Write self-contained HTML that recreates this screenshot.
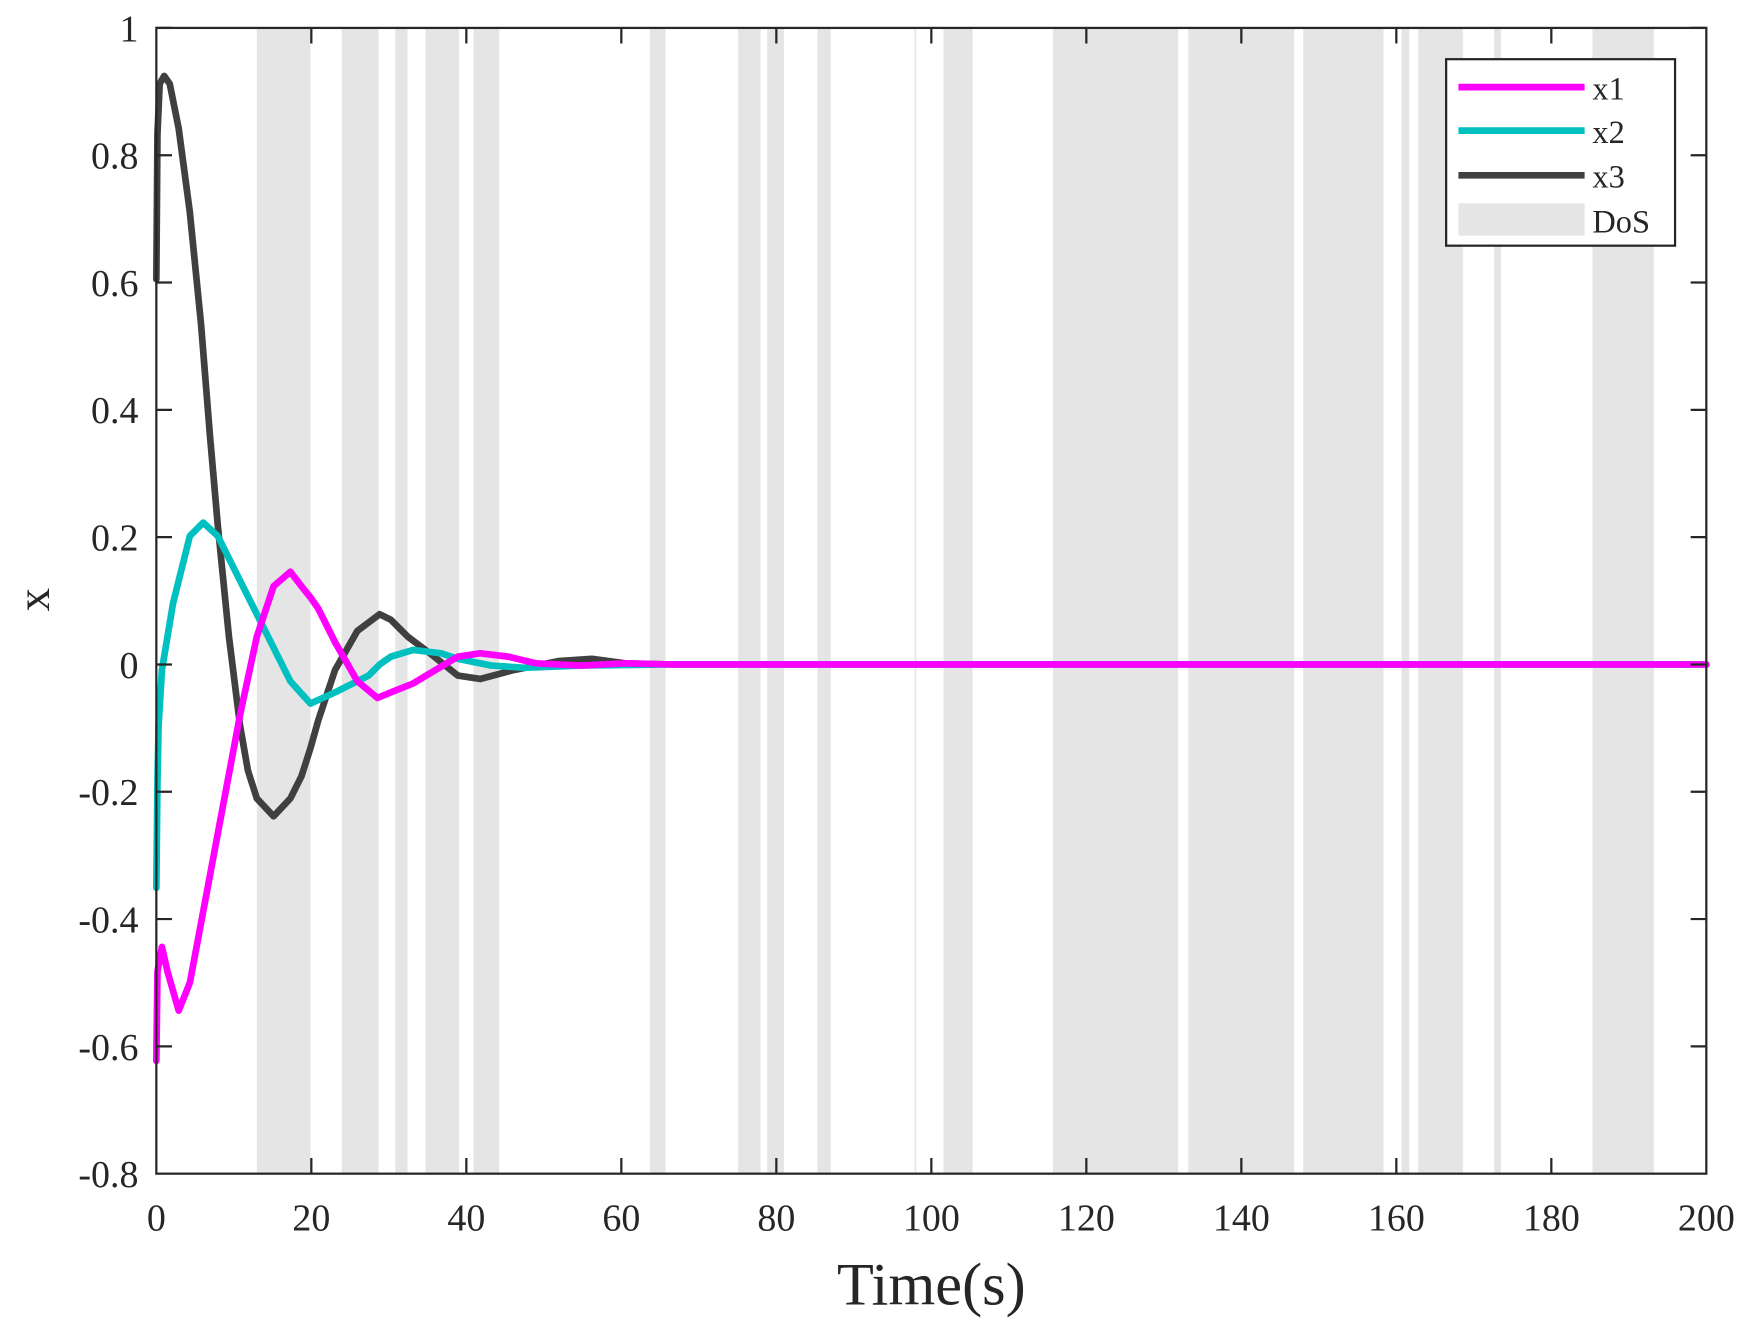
<!DOCTYPE html>
<html><head><meta charset="utf-8"><style>
html,body{margin:0;padding:0;background:#fff;}
svg{display:block;}
text{font-family:"Liberation Serif",serif;fill:#262626;}
</style></head><body>
<svg width="1751" height="1327" viewBox="0 0 1568 1188.3" xmlns="http://www.w3.org/2000/svg">
<rect x="0" y="0" width="1568" height="1188.3" fill="#fff"/>
<g fill="#e5e5e5">
<rect x="230" y="25" width="48" height="1026"/>
<rect x="306" y="25" width="33" height="1026"/>
<rect x="354" y="25" width="11" height="1026"/>
<rect x="381" y="25" width="30" height="1026"/>
<rect x="424" y="25" width="23" height="1026"/>
<rect x="582" y="25" width="14" height="1026"/>
<rect x="661" y="25" width="20" height="1026"/>
<rect x="687" y="25" width="15" height="1026"/>
<rect x="732" y="25" width="12" height="1026"/>
<rect x="819" y="25" width="1.5" height="1026"/>
<rect x="845" y="25" width="26" height="1026"/>
<rect x="943" y="25" width="112" height="1026"/>
<rect x="1064" y="25" width="95" height="1026"/>
<rect x="1167" y="25" width="72" height="1026"/>
<rect x="1255" y="25" width="7" height="1026"/>
<rect x="1270" y="25" width="40" height="1026"/>
<rect x="1338" y="25" width="6" height="1026"/>
<rect x="1426" y="25" width="55" height="1026"/>
</g>
<g fill="none" stroke-width="6" stroke-linejoin="round" stroke-linecap="round">
<polyline stroke="#404040" points="140,250 141,120 143,75 147,68 152,75 160,115 170,190 180,290 188,390 195,470 205,570 215,650 222,690 230,715 245,731 260,715 270,695 278,670 285,645 300,600 320,565 340,550 350,555 365,570 385,585 410,605 430,608 460,600 500,592 530,590 560,594 600,595 1528,595"/>
<polyline stroke="#00c0c0" points="140,795 141,700 142,650 145,600 155,540 170,480 182,468 195,480 215,520 240,570 260,610 278,630 300,620 330,605 340,595 350,588 370,582 395,585 410,590 440,596 470,598 520,596 600,595 1528,595"/>
<polyline stroke="#ff00ff" points="140,950 141,870 145,848 150,870 160,905 170,880 185,800 200,720 215,640 230,570 245,525 260,512 270,525 278,535 285,545 300,575 320,610 338,625 350,620 370,612 390,600 410,588 430,585 455,588 480,594 520,596 560,594 600,595 1528,595"/>
</g>
<g stroke="#262626" stroke-width="2" fill="none">
<rect x="140" y="25" width="1388" height="1026"/>
<path d="M140,25h14M140,139h14M140,253h14M140,367h14M140,481h14M140,595h14M140,709h14M140,823h14M140,937h14M1528,25h-14M1528,139h-14M1528,253h-14M1528,367h-14M1528,481h-14M1528,595h-14M1528,709h-14M1528,823h-14M1528,937h-14"/>
<path d="M278.8,1051v-14M417.6,1051v-14M556.4,1051v-14M695.2,1051v-14M834,1051v-14M972.8,1051v-14M1111.6,1051v-14M1250.4,1051v-14M1389.2,1051v-14M278.8,25v14M417.6,25v14M556.4,25v14M695.2,25v14M834,25v14M972.8,25v14M1111.6,25v14M1250.4,25v14M1389.2,25v14"/>
</g>
<g font-size="34" text-anchor="end">
<text x="124" y="37">1</text>
<text x="124" y="151">0.8</text>
<text x="124" y="265">0.6</text>
<text x="124" y="379">0.4</text>
<text x="124" y="493">0.2</text>
<text x="124" y="607">0</text>
<text x="124" y="721">-0.2</text>
<text x="124" y="835">-0.4</text>
<text x="124" y="949">-0.6</text>
<text x="124" y="1063">-0.8</text>
</g>
<g font-size="34" text-anchor="middle">
<text x="140" y="1102">0</text>
<text x="278.8" y="1102">20</text>
<text x="417.6" y="1102">40</text>
<text x="556.4" y="1102">60</text>
<text x="695.2" y="1102">80</text>
<text x="834" y="1102">100</text>
<text x="972.8" y="1102">120</text>
<text x="1111.6" y="1102">140</text>
<text x="1250.4" y="1102">160</text>
<text x="1389.2" y="1102">180</text>
<text x="1528" y="1102">200</text>
</g>
<text x="834" y="1168" font-size="54" text-anchor="middle">Time(s)</text>
<text transform="translate(44,537) rotate(-90)" font-size="42" text-anchor="middle">x</text>
<rect x="1295" y="53" width="205" height="167" fill="#fff" stroke="#262626" stroke-width="2"/>
<g stroke-width="6">
<line x1="1306" y1="78" x2="1419" y2="78" stroke="#ff00ff"/>
<line x1="1306" y1="117" x2="1419" y2="117" stroke="#00c0c0"/>
<line x1="1306" y1="157" x2="1419" y2="157" stroke="#404040"/>
</g>
<rect x="1306" y="182" width="113" height="29" fill="#e5e5e5"/>
<g font-size="29" fill="#000">
<text x="1426" y="89">x1</text>
<text x="1426" y="128">x2</text>
<text x="1426" y="168">x3</text>
<text x="1426" y="208">DoS</text>
</g>
</svg>
</body></html>
